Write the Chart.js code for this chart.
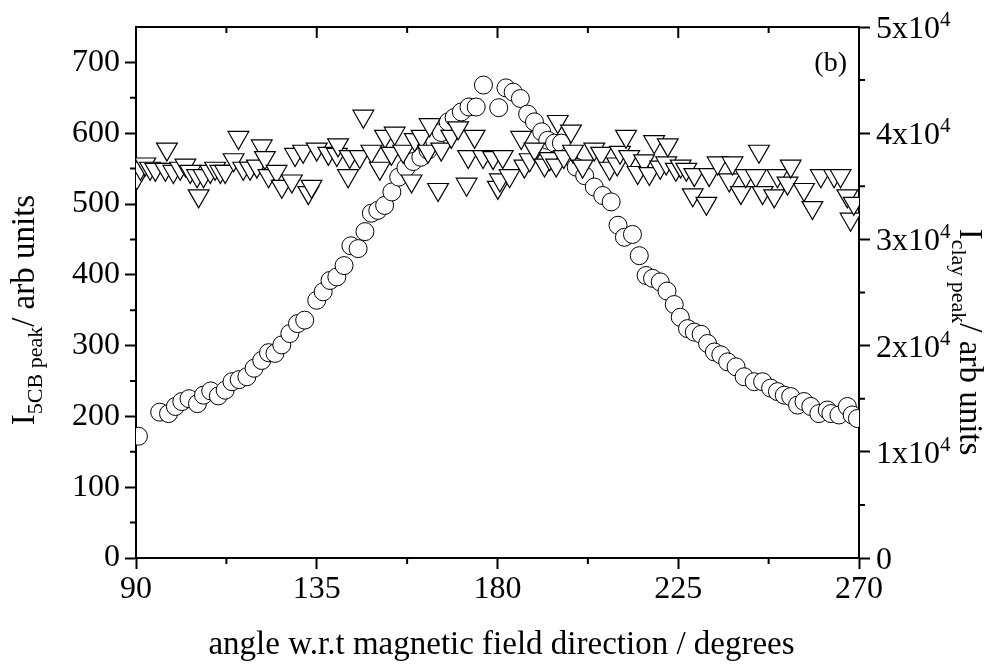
<!DOCTYPE html>
<html>
<head>
<meta charset="utf-8">
<script src="https://cdn.jsdelivr.net/npm/chart.js@4.4.0/dist/chart.umd.min.js"></script>
<style>
  html, body { margin: 0; padding: 0; background: #fff; }
  #wrap { width: 1003px; height: 665px; }
</style>
</head>
<body>
<div id="wrap"><canvas id="chart" width="1003" height="665"></canvas></div>
<script>
'use strict'

// 5CB peak intensity (circles, left axis)
const angle5CB = [90.6, 95.9, 98.1, 99.8, 101.4, 103.2, 105.3, 106.8, 108.6, 110.5,
  112.2, 113.9, 115.7, 117.6, 119.4, 121.3, 123.0, 124.6, 126.3, 128.3,
  130.2, 132.0, 135.0, 136.6, 138.3, 140.0, 141.8, 143.5, 145.3, 147.0,
  148.6, 150.2, 151.9, 153.7, 155.4, 157.2, 159.0, 160.9, 162.7, 164.4,
  166.0, 167.7, 169.2, 171.0, 172.9, 174.7, 176.5, 180.3, 182.1, 183.9,
  185.7, 187.5, 189.2, 191.0, 192.5, 194.2, 195.9, 197.7, 199.6, 201.7,
  204.1, 206.2, 208.3, 210.0, 211.6, 213.6, 215.3, 217.0, 218.6, 220.5,
  222.2, 224.0, 225.5, 227.3, 229.0, 230.7, 232.3, 234.0, 235.6, 237.3,
  239.4, 241.4, 243.9, 246.0, 248.0, 249.7, 251.4, 253.0, 254.7, 256.3,
  258.0, 260.0, 262.1, 263.0, 265.0, 267.1, 268.3, 269.6]
const peak5CB = [172, 206, 204, 214, 221, 225, 218, 230, 236, 229,
  237, 249, 252, 256, 268, 279, 290, 289, 301, 317,
  331, 336, 364, 376, 392, 397, 413, 441, 437, 461,
  487, 491, 498, 517, 538, 551, 560, 566, 576, 588,
  601, 616, 622, 630, 637, 637, 668, 636, 664, 658,
  649, 627, 616, 602, 590, 586, 586, 568, 552, 540,
  524, 512, 503, 470, 453, 457, 427, 399, 395, 390,
  377, 358, 340, 324, 319, 316, 303, 291, 287, 277,
  270, 256, 249, 249, 240, 235, 230, 228, 216, 221,
  214, 204, 209, 204, 202, 214, 202, 197]

// clay peak intensity (triangles, right axis)
const angleClay = [90.2, 91.1, 92.3, 93.5, 94.8, 97.3, 97.7, 99.3, 101.0, 102.3,
  103.5, 105.2, 105.6, 106.8, 108.5, 109.7, 111.0, 112.2, 114.3, 115.5,
  116.7, 118.4, 120.1, 121.3, 122.1, 123.0, 125.0, 126.3, 128.8, 129.6,
  131.6, 132.9, 133.7, 135.0, 137.9, 140.0, 140.3, 142.8, 143.2, 145.7,
  146.6, 148.6, 150.7, 152.0, 153.6, 154.4, 156.5, 158.6, 159.4, 161.1,
  162.7, 163.1, 165.2, 166.0, 168.5, 170.2, 172.3, 172.7, 174.3, 176.4,
  178.9, 180.1, 180.6, 181.3, 183.0, 185.9, 186.7, 188.0, 189.2, 191.7,
  193.0, 194.6, 195.0, 196.5, 198.3, 198.8, 201.2, 204.1, 205.8, 207.9,
  209.8, 210.5, 212.0, 212.8, 214.9, 216.5, 217.8, 219.0, 220.5, 222.0,
  222.4, 224.4, 225.6, 227.0, 228.6, 229.0, 232.0, 232.7, 234.8, 237.7,
  238.5, 240.6, 241.8, 244.3, 245.1, 246.0, 248.9, 249.7, 252.2, 253.0,
  256.3, 258.4, 260.5, 263.8, 265.4, 267.1, 267.9, 268.7]
const peakClay = [35800, 36700, 37100, 36700, 36600, 36600, 38500, 36400, 36700, 37000,
  36400, 36000, 34100, 36000, 36400, 36700, 36400, 36400, 37500, 39600,
  36700, 36700, 36900, 38800, 37700, 36000, 36400, 35000, 35500, 38000,
  38300, 34400, 35000, 38500, 38100, 38000, 38900, 36000, 37800, 37800,
  41600, 38300, 36700, 39700, 38100, 40000, 38300, 35500, 39400, 39700,
  38300, 40800, 34700, 38500, 39700, 40500, 35200, 37800, 39700, 37800,
  37700, 34900, 35600, 37800, 36000, 39600, 36900, 37500, 38500, 37000,
  37600, 37000, 41100, 37800, 40200, 38300, 36900, 38500, 38100, 36700,
  37100, 38200, 39700, 37800, 36300, 37400, 36200, 39200, 36800, 37200,
  38900, 36600, 36900, 36600, 34200, 36100, 33400, 36100, 37200, 35600,
  37200, 34400, 36000, 36000, 38300, 34400, 34100, 36000, 35300, 36900,
  34700, 33000, 36000, 36000, 36000, 34100, 31900, 33400]

const angleTicks = [90, 135, 180, 225, 270]
const angleMinor = [112.5, 157.5, 202.5, 247.5]
const leftTicks = [0, 100, 200, 300, 400, 500, 600, 700]
const leftMinor = [50, 150, 250, 350, 450, 550, 650]
const rightTicks = [0, 10000, 20000, 30000, 40000, 50000]
const rightMinor = [5000, 15000, 25000, 35000, 45000]

const FONT = '"Liberation Serif", "Times New Roman", serif'

function toPoints (xs, ys) {
  return xs.map((x, i) => ({ x: x, y: ys[i] }))
}

function drawRich (ctx, parts, x, y, rot) {
  ctx.save()
  ctx.translate(x, y)
  ctx.rotate(rot)
  ctx.textAlign = 'left'
  ctx.textBaseline = 'alphabetic'
  let total = 0
  parts.forEach(p => {
    ctx.font = p.size + 'px ' + FONT
    p.w = ctx.measureText(p.text).width
    total += p.w
  })
  let cx = -total / 2
  parts.forEach(p => {
    ctx.font = p.size + 'px ' + FONT
    ctx.fillText(p.text, cx, p.dy || 0)
    cx += p.w
  })
  ctx.restore()
}

const framePlugin = {
  id: 'frame',
  afterDraw (chart) {
    const ctx = chart.ctx
    const area = chart.chartArea
    const x = chart.scales.x
    const y = chart.scales.y
    const y2 = chart.scales.y2
    ctx.save()
    ctx.strokeStyle = '#000'
    ctx.fillStyle = '#000'
    ctx.lineWidth = 2
    ctx.beginPath()
    // top frame line
    ctx.moveTo(area.left - 1, area.top)
    ctx.lineTo(area.right + 1, area.top)
    // top inward major ticks
    angleTicks.forEach(v => {
      const px = x.getPixelForValue(v)
      ctx.moveTo(px, area.top)
      ctx.lineTo(px, area.top + 11)
    })
    angleMinor.forEach(v => {
      const px = x.getPixelForValue(v)
      ctx.moveTo(px, area.top)
      ctx.lineTo(px, area.top + 6)
      ctx.moveTo(px, area.bottom)
      ctx.lineTo(px, area.bottom + 6)
    })
    leftMinor.forEach(v => {
      const py = y.getPixelForValue(v)
      ctx.moveTo(area.left - 6, py)
      ctx.lineTo(area.left, py)
    })
    rightMinor.forEach(v => {
      const py = y2.getPixelForValue(v)
      ctx.moveTo(area.right, py)
      ctx.lineTo(area.right + 6, py)
    })
    ctx.stroke()

    // right tick labels with superscript
    ctx.textAlign = 'left'
    ctx.textBaseline = 'alphabetic'
    rightTicks.forEach(v => {
      const py = y2.getPixelForValue(v)
      const lx = area.right + 17
      ctx.font = '32px ' + FONT
      if (v === 0) {
        ctx.fillText('0', lx, py + 11)
        return
      }
      const main = (v / 10000) + 'x10'
      ctx.fillText(main, lx, py + 11)
      const w = ctx.measureText(main).width
      ctx.font = '21px ' + FONT
      ctx.fillText('4', lx + w, py - 1)
    })

    // axis titles
    ctx.font = '33px ' + FONT
    ctx.textAlign = 'center'
    ctx.fillText('angle w.r.t magnetic field direction / degrees', (area.left + area.right) / 2 + 4, 654)

    drawRich(ctx, [
      { text: 'I', size: 33 },
      { text: '5CB peak', size: 22, dy: 8 },
      { text: '/ arb units', size: 33 }
    ], 34, 310, -Math.PI / 2)

    drawRich(ctx, [
      { text: 'I', size: 33 },
      { text: 'clay peak', size: 22, dy: 8 },
      { text: '/ arb units', size: 33 }
    ], 960, 342, Math.PI / 2)

    ctx.font = '28px ' + FONT
    ctx.textAlign = 'right'
    ctx.fillText('(b)', area.right - 12, 71)
    ctx.restore()
  }
}

const axisCommon = {
  grid: { display: true, drawOnChartArea: false, drawTicks: true, tickLength: 11, tickWidth: 2, tickColor: '#000' },
  border: { display: true, color: '#000', width: 2 }
}

const chart = new Chart(document.getElementById('chart').getContext('2d'), {
  type: 'scatter',
  data: {
    datasets: [{
      label: 'clay peak',
      data: toPoints(angleClay, peakClay),
      yAxisID: 'y2',
      order: 0,
      pointStyle: 'triangle',
      rotation: 180,
      radius: 12,
      borderWidth: 1.2,
      borderColor: '#000',
      backgroundColor: '#fff',
      pointBackgroundColor: '#fff'
    }, {
      label: '5CB peak',
      data: toPoints(angle5CB, peak5CB),
      yAxisID: 'y',
      order: 1,
      pointStyle: 'circle',
      radius: 9,
      borderWidth: 1,
      borderColor: '#000',
      backgroundColor: '#fff',
      pointBackgroundColor: '#fff'
    }]
  },
  options: {
    responsive: false,
    animation: false,
    devicePixelRatio: 1,
    layout: { padding: { top: 27, left: 0, right: 0, bottom: 0 } },
    plugins: { legend: { display: false }, tooltip: { enabled: false } },
    scales: {
      x: Object.assign({}, axisCommon, {
        type: 'linear',
        position: 'bottom',
        min: 90,
        max: 270,
        afterBuildTicks: scale => { scale.ticks = angleTicks.map(v => ({ value: v })) },
        afterFit: scale => { scale.height = 107 },
        ticks: { color: '#000', padding: 1, maxRotation: 0, font: { family: FONT, size: 32 } }
      }),
      y: Object.assign({}, axisCommon, {
        type: 'linear',
        position: 'left',
        min: 0,
        max: 750,
        afterBuildTicks: scale => { scale.ticks = leftTicks.map(v => ({ value: v })) },
        afterFit: scale => { scale.width = 136 },
        ticks: { color: '#000', padding: 5, font: { family: FONT, size: 32 } }
      }),
      y2: Object.assign({}, axisCommon, {
        type: 'linear',
        position: 'right',
        min: 0,
        max: 50000,
        afterBuildTicks: scale => { scale.ticks = rightTicks.map(v => ({ value: v })) },
        afterFit: scale => { scale.width = 144 },
        ticks: { color: '#000', padding: 5, font: { family: FONT, size: 32 }, callback: () => '' }
      })
    }
  },
  plugins: [framePlugin]
})
</script>
</body>
</html>
